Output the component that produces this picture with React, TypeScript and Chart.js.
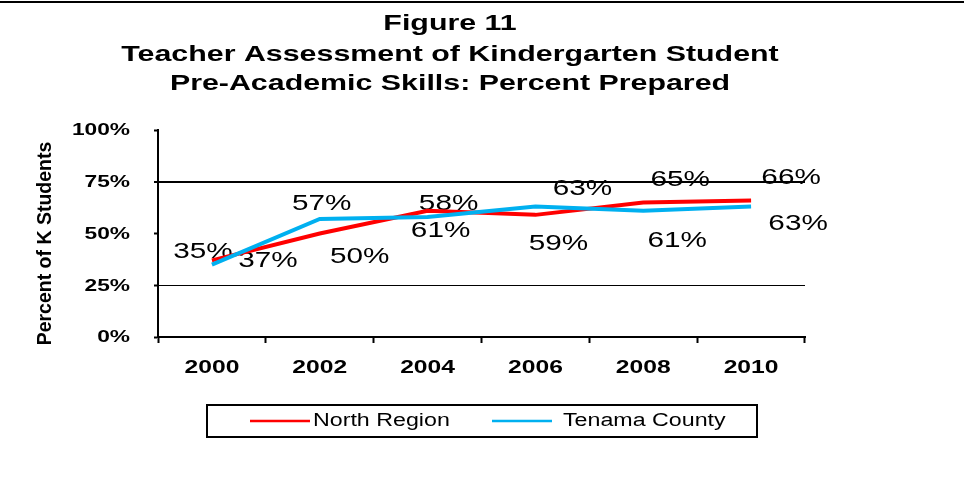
import React, { useEffect, useRef } from "react";
import { Chart, registerables } from "chart.js";

Chart.register(...registerables);

// ---- Data ----
const TITLE_LINES = [
  "Figure 11",
  "Teacher Assessment of Kindergarten Student",
  "Pre-Academic Skills: Percent Prepared",
];
const Y_AXIS_TITLE = "Percent of K Students";
const YEARS = ["2000", "2002", "2004", "2006", "2008", "2010"];
const SERIES_NAMES = ["North Region", "Tenama County"];
const NORTH_REGION = [37, 50, 61, 59, 65, 66];
const TENAMA_COUNTY = [35, 57, 58, 63, 61, 63];
const Y_MIN = 0;
const Y_MAX = 100;
const Y_STEP = 25;

// ---- Label placement (offsets from each point, px) ----
const NORTH_LABEL_DX = [56, 40, 13, 23, 37, 40];
const NORTH_LABEL_DY = [1, 23, 20, 29, -23, -22];
const TENAMA_LABEL_DX = [-9, 2, 21, 47, 34, 47];
const TENAMA_LABEL_DY = [-13, -15, -13, -18, 30, 17];

const RED = "#FF0000";
const BLUE = "#00B0F0";
const FONT = '"Liberation Sans", Arial, sans-serif';

function stretchText(
  ctx: CanvasRenderingContext2D,
  text: string,
  x: number,
  y: number,
  font: string,
  sx: number,
  align: CanvasTextAlign,
  color = "#000"
) {
  ctx.save();
  ctx.font = font;
  ctx.fillStyle = color;
  ctx.textBaseline = "middle";
  ctx.textAlign = align;
  ctx.translate(x, y);
  ctx.scale(sx, 1);
  ctx.fillText(text, 0, 0);
  ctx.restore();
}

const decorPlugin = {
  id: "decor",
  beforeDraw(chart: any) {
    const ctx = chart.ctx as CanvasRenderingContext2D;
    ctx.save();
    ctx.fillStyle = "#fff";
    ctx.fillRect(0, 0, chart.width, chart.height);
    ctx.restore();
  },
  beforeDatasetsDraw(chart: any) {
    const ctx = chart.ctx as CanvasRenderingContext2D;
    const offsets = [
      [NORTH_LABEL_DX, NORTH_LABEL_DY],
      [TENAMA_LABEL_DX, TENAMA_LABEL_DY],
    ];
    chart.data.datasets.forEach((ds: any, di: number) => {
      const meta = chart.getDatasetMeta(di);
      meta.data.forEach((pt: any, j: number) => {
        const v = ds.data[j];
        stretchText(
          ctx,
          `${v}%`,
          pt.x + offsets[di][0][j],
          pt.y + offsets[di][1][j],
          `22px ${FONT}`,
          1.35,
          "center"
        );
      });
    });
  },
  afterDraw(chart: any) {
    const ctx = chart.ctx as CanvasRenderingContext2D;
    const { chartArea } = chart;
    const xs = chart.scales.x;
    const ys = chart.scales.y;

    // top rule
    ctx.save();
    ctx.fillStyle = "#000";
    ctx.fillRect(0, 1, chart.width, 2);
    ctx.restore();

    // title
    const titleY = [24, 55, 84];
    TITLE_LINES.forEach((t, i) => {
      stretchText(ctx, t, 450, titleY[i], `bold 22px ${FONT}`, 1.38, "center");
    });

    // y tick labels
    ys.ticks.forEach((t: any) => {
      stretchText(
        ctx,
        `${t.value}%`,
        chartArea.left - 28,
        ys.getPixelForValue(t.value) + 1,
        `bold 16px ${FONT}`,
        1.42,
        "right"
      );
    });

    // x tick labels
    YEARS.forEach((lab, i) => {
      stretchText(
        ctx,
        lab,
        xs.getPixelForValue(i),
        chartArea.bottom + 31,
        `bold 18px ${FONT}`,
        1.37,
        "center"
      );
    });

    // y axis title
    ctx.save();
    ctx.translate(45.5, (chartArea.top + chartArea.bottom) / 2 + 10);
    ctx.rotate(-Math.PI / 2);
    ctx.font = `bold 19.5px ${FONT}`;
    ctx.fillStyle = "#000";
    ctx.textAlign = "center";
    ctx.textBaseline = "middle";
    ctx.fillText(Y_AXIS_TITLE, 0, 0);
    ctx.restore();

    // legend
    ctx.save();
    ctx.strokeStyle = "#000";
    ctx.lineWidth = 2;
    ctx.strokeRect(207, 405, 550, 32);
    const legendItems = [
      { color: RED, x0: 250, x1: 310, tx: 313 },
      { color: BLUE, x0: 492, x1: 552, tx: 563 },
    ];
    legendItems.forEach((it, i) => {
      ctx.beginPath();
      ctx.strokeStyle = it.color;
      ctx.lineWidth = 2.5;
      ctx.moveTo(it.x0, 421);
      ctx.lineTo(it.x1, 421);
      ctx.stroke();
      stretchText(ctx, SERIES_NAMES[i], it.tx, 421, `18px ${FONT}`, 1.29, "left");
    });
    ctx.restore();
  },
};

export default function App() {
  const canvasRef = useRef<HTMLCanvasElement | null>(null);

  useEffect(() => {
    if (!canvasRef.current) return;
    const chart = new Chart(canvasRef.current, {
      type: "line",
      data: {
        labels: YEARS,
        datasets: [
          {
            label: SERIES_NAMES[0],
            data: NORTH_REGION,
            borderColor: RED,
            backgroundColor: RED,
            borderWidth: 4,
            pointRadius: 0,
            tension: 0,
            order: 1,
          },
          {
            label: SERIES_NAMES[1],
            data: TENAMA_COUNTY,
            borderColor: BLUE,
            backgroundColor: BLUE,
            borderWidth: 4,
            pointRadius: 0,
            tension: 0,
            order: 0,
          },
        ],
      },
      options: {
        animation: false,
        responsive: false,
        events: [],
        layout: { padding: { left: 154, right: 159, top: 130, bottom: 143 } },
        plugins: {
          legend: { display: false },
          title: { display: false },
          tooltip: { enabled: false },
        },
        scales: {
          x: {
            type: "category",
            offset: true,
            grid: {
              display: true,
              offset: true,
              drawOnChartArea: false,
              drawTicks: true,
              tickLength: 6,
              tickWidth: 2,
              tickColor: "#000",
            },
            border: { display: true, color: "#000", width: 2 },
            ticks: { display: false },
            afterFit: (s: any) => {
              s.height = 6;
            },
          },
          y: {
            min: Y_MIN,
            max: Y_MAX,
            ticks: { display: false, stepSize: Y_STEP },
            grid: {
              color: (c: any) =>
                c.tick && (c.tick.value === 25 || c.tick.value === 75) ? "#000" : "rgba(0,0,0,0)",
              lineWidth: (c: any) => (c.tick && c.tick.value === 75 ? 2 : 1),
              tickColor: "#000",
              tickLength: 4,
              tickWidth: 2,
            },
            border: { display: true, color: "#000", width: 2 },
            afterFit: (s: any) => {
              s.width = 4;
            },
          },
        },
      } as any,
      plugins: [decorPlugin],
    });
    return () => chart.destroy();
  }, []);

  return (
    <div style={{ position: "absolute", left: 0, top: 0, width: 964, height: 486, background: "#fff" }}>
      <canvas ref={canvasRef} width={964} height={486} style={{ display: "block" }} />
    </div>
  );
}
